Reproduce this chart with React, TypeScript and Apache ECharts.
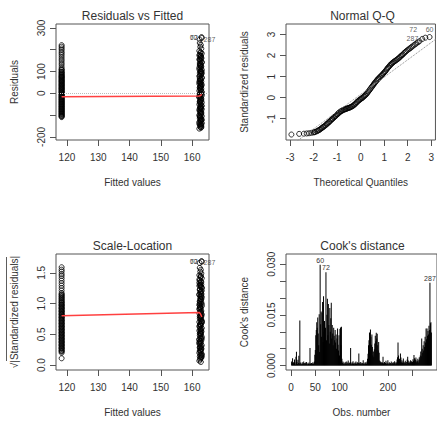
import React, { useEffect, useRef } from "react";
import * as echarts from "echarts";

// ---------- Residuals vs Fitted ----------
const fittedTicks = [120, 130, 140, 150, 160];
const residualTicks = [-200, -100, 0, 100, 200, 300];
const residualTickLabels = [-200, 0, 100, 300];

const leftGroupFitted = 118.3;
const leftResiduals = [
  221, 214, 206, 199, 190, 183, 175, 166, 157, 149, 139, 131, 121, 113, 106, 99, 93, 86, 80, 75,
  69, 63, 57, 52, 46, 40, 35, 29, 23, 18, 12, 6, 1, -5, -10, -16, -21, -27, -32, -38,
  -43, -49, -54, -60, -65, -71, -76, -82, -87, -93, -98, -104, -109,
  108, 97, 90, 83, 77, 72, 66, 60, 55, 49, 43, 38, 32, 26, 21, 15, 9, 4, -2, -7,
  -13, -18, -24, -29, -35, -40, -46, -51, -57, -62, -68, -73, -79, -84, -90, -95, -101, -106,
];

const rightFitted = [
  162.45, 162.8, 162.6, 162.95, 162.3, 162.7, 163.1, 162.45, 162.8, 162.6, 162.95, 162.3, 162.7, 163.1, 162.45, 162.8, 162.6, 162.95, 162.3, 162.7,
  163.1, 162.6, 162.8, 162.45, 162.95, 162.7, 162.3, 163.1, 162.6, 162.8, 162.45, 162.95, 162.7, 162.3, 163.1, 162.6, 162.8, 162.45, 162.95, 162.7,
  162.3, 162.95, 162.6, 162.8, 162.45, 163.1, 162.7, 162.3, 162.95, 162.6, 162.8, 162.45, 163.1, 162.7, 162.3, 162.95, 162.6, 162.8, 162.45, 163.1,
  162.7, 162.45, 162.95, 162.6, 162.8, 162.3, 163.1, 162.7, 162.45, 162.95, 162.6, 162.8, 162.3, 163.1, 162.7, 162.45, 162.95, 162.6, 162.8, 162.3,
  162.8, 162.6, 162.95, 162.45, 162.7, 163.1, 162.6, 162.8, 162.45, 162.95,
  162.7, 162.3, 162.95, 162.6, 163.1, 162.45, 162.8, 162.3, 162.7, 162.95, 162.45, 163.1, 162.6, 162.3, 162.8, 162.95, 162.45, 162.7, 163.1, 162.6,
  162.3, 162.8, 162.95, 162.45, 162.7, 163.1, 162.6, 162.3, 162.8, 162.95, 162.45, 162.7, 163.1, 162.6, 162.3, 162.8, 162.95, 162.45, 162.7, 163.1,
  162.6, 162.3, 162.8, 162.95,
];
const rightResiduals = [
  231, 222, 214, 205, 195, 189, 183, 177, 171, 166, 160, 155, 149, 144, 139, 133, 128, 123, 118, 113,
  108, 103, 98, 93, 88, 83, 78, 73, 68, 63, 58, 54, 49, 44, 40, 35, 30, 26, 21, 17,
  12, 8, 3, -1, -6, -10, -15, -19, -24, -28, -33, -37, -42, -46, -51, -55, -60, -64, -69, -73,
  -78, -82, -87, -91, -96, -100, -105, -109, -114, -118, -123, -127, -132, -136, -141, -145, -150, -154, -158, -162,
  172, 136, 101, 66, 31, -3, -38, -72, -107, -141,
  186, 174, 163, 152, 141, 130, 120, 110, 100, 90, 80, 70, 61, 52, 43, 34, 25, 15, 6, -4,
  -13, -22, -31, -40, -49, -58, -67, -76, -85, -94, -103, -112, -121, -130, -139, -148, -156, 157, 125, 95,
  46, -17, -66, -125,
];

const outlierIds = ["60", "72", "287"];
const outlierFitted = [163.0, 163.1, 162.4];
const outlierResiduals = [258, 254, 247];

const lowessFitted = [118.3, 162.3, 162.7, 163.1];
const lowessResiduals = [-16, -12, -10, -5];

// ---------- Normal Q-Q ----------
const qqTicksX = [-3, -2, -1, 0, 1, 2, 3];
const qqTicksY = [-1, 0, 1, 2, 3];
const qqTheoretical = [
  -2.95, -2.62, -2.42, -2.3, -2.2, -2.1, -2.02, -1.95, -1.88, -1.8, -1.72, -1.65, -1.58, -1.5, -1.43, -1.36, -1.29, -1.22, -1.15, -1.08,
  -1.01, -0.94, -0.87, -0.8, -0.73, -0.66, -0.59, -0.52, -0.45, -0.38, -0.31, -0.24, -0.17, -0.1, -0.03, 0.04, 0.11, 0.18, 0.25, 0.32,
  0.39, 0.46, 0.53, 0.6, 0.67, 0.74, 0.81, 0.88, 0.95, 1.02, 1.09, 1.16, 1.23, 1.3, 1.37, 1.44, 1.52, 1.6, 1.68, 1.76,
  1.85, 1.94, 2.04, 2.14, 2.25, 2.37, 2.5,
  -1.54, -1.4, -1.25, -1.12, -0.98, -0.84, -0.7, -0.56, -0.42, -0.28, -0.14, 0.0, 0.14, 0.28, 0.42, 0.56, 0.7, 0.84, 0.98, 1.12,
  1.26, 1.4, 1.56, 1.72, 1.9,
  -1.97, -1.84, -1.76, -1.68, -1.61, -1.46, -1.33, -1.19, -1.05, -0.91, -0.77, -0.63, -0.49, -0.35, -0.21, -0.07, 0.07, 0.21, 0.35, 0.49,
  0.63, 0.77, 0.91, 1.05, 1.19, 1.33, 1.48, 1.64, 1.8, 1.99, 2.09, 2.19, 2.31, 2.43,
];
const qqStandardized = [
  -1.75, -1.72, -1.71, -1.7, -1.69, -1.67, -1.65, -1.63, -1.6, -1.55, -1.5, -1.44, -1.38, -1.31, -1.24, -1.17, -1.1, -1.02, -0.95, -0.88,
  -0.8, -0.73, -0.67, -0.62, -0.58, -0.55, -0.52, -0.49, -0.46, -0.42, -0.37, -0.3, -0.22, -0.15, -0.09, -0.03, 0.03, 0.1, 0.18, 0.28,
  0.38, 0.49, 0.6, 0.7, 0.8, 0.89, 0.97, 1.05, 1.13, 1.22, 1.32, 1.42, 1.51, 1.6, 1.67, 1.73, 1.79, 1.86, 1.94, 2.02,
  2.12, 2.21, 2.3, 2.38, 2.48, 2.58, 2.68,
  -1.35, -1.21, -1.05, -0.92, -0.78, -0.64, -0.56, -0.5, -0.44, -0.34, -0.19, -0.06, 0.07, 0.23, 0.44, 0.65, 0.85, 1.01, 1.18, 1.37,
  1.56, 1.7, 1.83, 1.99, 2.17,
  -1.64, -1.58, -1.53, -1.46, -1.4, -1.27, -1.14, -0.99, -0.85, -0.7, -0.6, -0.54, -0.48, -0.4, -0.27, -0.12, -0.01, 0.13, 0.33, 0.54,
  0.75, 0.93, 1.08, 1.26, 1.46, 1.63, 1.76, 1.9, 2.06, 2.26, 2.34, 2.43, 2.53, 2.63,
];
const qqOutlierTheoretical = [2.93, 2.75, 2.62];
const qqOutlierStandardized = [2.88, 2.85, 2.79];
const qqLineIntercept = 0.16;
const qqLineSlope = 0.82;

// ---------- Scale-Location ----------
const sqrtTicks = [0, 0.5, 1, 1.5];
const leftSqrtStd = [
  1.59, 1.55, 1.52, 1.48, 1.45, 1.41, 1.37, 1.33, 1.29, 1.25, 1.21, 1.17, 1.14, 1.11, 1.08, 1.06, 1.03, 1.01, 0.98, 0.96,
  0.93, 0.91, 0.88, 0.86, 0.83, 0.81, 0.78, 0.76, 0.73, 0.71, 0.68, 0.66, 0.63, 0.61, 0.58, 0.56, 0.53, 0.51, 0.48, 0.46,
  0.43, 0.41, 0.38, 0.36, 0.33, 0.31, 0.28, 0.26, 0.23, 0.2, 0.11,
  1.15, 1.12, 1.09, 1.05, 1.02, 0.99, 0.97, 0.94, 0.92, 0.89, 0.87, 0.84, 0.82, 0.79, 0.77, 0.74, 0.72, 0.69, 0.67, 0.64,
  0.62, 0.59, 0.57, 0.54, 0.52, 0.49, 0.47, 0.44, 0.42, 0.39, 0.37, 0.34, 0.32, 0.29, 0.27, 0.24, 0.22,
];
const rightSqrtStd = [
  1.58, 1.55, 1.52, 1.49, 1.46, 1.43, 1.41, 1.38, 1.36, 1.33, 1.31, 1.29, 1.27, 1.25, 1.22, 1.2, 1.18, 1.16, 1.14, 1.12,
  1.1, 1.08, 1.06, 1.04, 1.02, 1.0, 0.98, 0.96, 0.94, 0.92, 0.9, 0.88, 0.86, 0.84, 0.82, 0.8, 0.78, 0.76, 0.74, 0.72,
  0.7, 0.68, 0.66, 0.64, 0.62, 0.6, 0.58, 0.56, 0.54, 0.52, 0.5, 0.48, 0.46, 0.44, 0.42, 0.4, 0.38, 0.36, 0.34, 0.32,
  0.3, 0.28, 0.26, 0.24, 0.22, 0.2, 0.18, 0.16, 0.14, 0.12, 0.09, 0.05, 1.34, 1.21, 1.07, 0.93, 0.79, 0.65, 0.51, 0.37,
  1.45, 1.3, 1.15, 1.0, 0.85, 0.71, 0.57, 0.43, 0.29, 0.17,
  1.44, 1.39, 1.35, 1.3, 1.26, 1.23, 1.19, 1.15, 1.11, 1.07, 1.03, 0.99, 0.95, 0.91, 0.87, 0.83, 0.79, 0.75, 0.71, 0.67,
  0.63, 0.59, 0.55, 0.51, 0.47, 0.43, 0.39, 0.35, 0.31, 0.27, 0.23, 0.19, 0.15, 0.11, 0.07, 1.28, 1.12, 0.97, 0.81, 0.69,
  0.53, 0.41, 0.25, 0.13,
];
const outlierSqrtStd = [1.69, 1.68, 1.66];
const lowessSqrtStd = [0.8, 0.855, 0.83, 0.78];

// ---------- Cook's distance ----------
const obsTicks = [0, 50, 100, 150, 200, 250];
const obsTickLabels = [0, 50, 100, 200];
const cooksTicks = [0, 0.005, 0.01, 0.015, 0.02, 0.025, 0.03];
const cooksTickLabels = [0, 0.015, 0.03];
const cooksLabelIds = [60, 72, 287];
const cooksDistance = [
  0.0012, 0.0008, 0.0022, 0.0006, 0.0010, 0.0004, 0.0018, 0.0009, 0.0003, 0.0026,
  0.0041, 0.0011, 0.0005, 0.0017, 0.0008, 0.0029, 0.0006, 0.0133, 0.0009, 0.0004,
  0.0006, 0.0003, 0.0010, 0.0005, 0.0007, 0.0012, 0.0004, 0.0008, 0.0005, 0.0009,
  0.0004, 0.0011, 0.0006, 0.0003, 0.0007, 0.0005, 0.0009, 0.0004, 0.0052, 0.0006,
  0.0005, 0.0008, 0.0004, 0.0006, 0.0010, 0.0005, 0.0007, 0.0012, 0.0032, 0.0046,
  0.0090, 0.0105, 0.0128, 0.0112, 0.0142, 0.0095, 0.0060, 0.0152, 0.0040, 0.0298,
  0.0122, 0.0160, 0.0085, 0.0156, 0.0188, 0.0070, 0.0205, 0.0100, 0.0132, 0.0080,
  0.0112, 0.0276, 0.0075, 0.0150, 0.0198, 0.0090, 0.0182, 0.0120, 0.0065, 0.0170,
  0.0100, 0.0140, 0.0186, 0.0080, 0.0120, 0.0095, 0.0060, 0.0112, 0.0088, 0.0075,
  0.0105, 0.0068, 0.0092, 0.0050, 0.0080, 0.0110, 0.0062, 0.0045, 0.0090, 0.0030,
  0.0108, 0.0113, 0.0060, 0.0115, 0.0020, 0.0008, 0.0012, 0.0005, 0.0009, 0.0004,
  0.0007, 0.0010, 0.0005, 0.0012, 0.0006, 0.0004, 0.0009, 0.0015, 0.0006, 0.0003,
  0.0008, 0.0011, 0.0052, 0.0007, 0.0004, 0.0010, 0.0006, 0.0013, 0.0005, 0.0008,
  0.0004, 0.0009, 0.0006, 0.0012, 0.0005, 0.0007, 0.0010, 0.0004, 0.0008, 0.0036,
  0.0006, 0.0009, 0.0005, 0.0011, 0.0007, 0.0004, 0.0008, 0.0006, 0.0016, 0.0005,
  0.0007, 0.0004, 0.0010, 0.0006, 0.0009, 0.0005, 0.0012, 0.0020, 0.0035, 0.0060,
  0.0075, 0.0098, 0.0070, 0.0107, 0.0085, 0.0062, 0.0092, 0.0055, 0.0030, 0.0042,
  0.0025, 0.0048, 0.0065, 0.0088, 0.0072, 0.0097, 0.0080, 0.0094, 0.0060, 0.0045,
  0.0070, 0.0038, 0.0015, 0.0008, 0.0012, 0.0006, 0.0010, 0.0005, 0.0009, 0.0026,
  0.0007, 0.0004, 0.0011, 0.0006, 0.0008, 0.0014, 0.0005, 0.0009, 0.0006, 0.0016,
  0.0004, 0.0007, 0.0010, 0.0005, 0.0008, 0.0006, 0.0012, 0.0004, 0.0009, 0.0007,
  0.0005, 0.0010, 0.0006, 0.0013, 0.0008, 0.0004, 0.0011, 0.0007, 0.0018, 0.0025,
  0.0068, 0.0030, 0.0015, 0.0020, 0.0012, 0.0036, 0.0024, 0.0010, 0.0016, 0.0008,
  0.0012, 0.0021, 0.0007, 0.0010, 0.0006, 0.0014, 0.0009, 0.0005, 0.0011, 0.0018,
  0.0026, 0.0015, 0.0008, 0.0012, 0.0007, 0.0010, 0.0016, 0.0009, 0.0013, 0.0008,
  0.0011, 0.0019, 0.0014, 0.0031, 0.0022, 0.0012, 0.0018, 0.0024, 0.0010, 0.0015,
  0.0013, 0.0020, 0.0009, 0.0016, 0.0025, 0.0018, 0.0030, 0.0042, 0.0028, 0.0080,
  0.0050, 0.0038, 0.0060, 0.0045, 0.0072, 0.0055, 0.0085, 0.0068, 0.0110, 0.0078,
  0.0110, 0.0088, 0.0102, 0.0092, 0.0118, 0.0105, 0.0245, 0.0125, 0.0128, 0.0098,
];

const FONT = '"Liberation Sans", Arial, Helvetica, sans-serif';
const TEXT = "#333";
const LINE = "#555";

function xAxisDef(gridIndex: number, min: number, max: number, ticks: number[], labels: number[], name: string) {
  return {
    type: "value", gridIndex, min, max,
    name, nameLocation: "middle", nameGap: 37,
    nameTextStyle: { fontSize: 10, color: TEXT, fontFamily: FONT },
    axisLine: { show: false, onZero: false },
    axisTick: { show: true, inside: false, length: 6, lineStyle: { color: LINE, width: 1 }, customValues: ticks },
    axisLabel: { show: true, customValues: labels, fontSize: 10, color: TEXT, fontFamily: FONT, margin: 12 },
    splitLine: { show: false },
  };
}

function yAxisDef(gridIndex: number, min: number, max: number, ticks: number[], labels: number[], name: string, fmt?: (v: number) => string) {
  return {
    type: "value", gridIndex, min, max,
    name, nameLocation: "middle", nameGap: 37, nameRotate: 90,
    nameTextStyle: { fontSize: 10, color: TEXT, fontFamily: FONT },
    axisLine: { show: false, onZero: false },
    axisTick: { show: true, inside: false, length: 6, lineStyle: { color: LINE, width: 1 }, customValues: ticks },
    axisLabel: {
      show: true, customValues: labels, fontSize: 10, color: TEXT, fontFamily: FONT, margin: 10, rotate: 90,
      formatter: fmt ? (v: number) => fmt(v) : undefined,
    },
    splitLine: { show: false },
  };
}

const circleStyle = { color: "transparent", borderColor: "#000", borderWidth: 1 };

// R-like placement: points right of the middle of the labelled points get their label on the left
function labeledPoints(xs: number[], ys: number[]) {
  const mid = (Math.min(...xs) + Math.max(...xs)) / 2;
  return xs.map((x, i) => ({
    name: outlierIds[i],
    value: [x, ys[i]],
    label: { position: x > mid ? "left" : "right" },
  }));
}

function outlierSeries(axisIndex: number, data: any[]) {
  return {
    type: "scatter", xAxisIndex: axisIndex, yAxisIndex: axisIndex, silent: true,
    symbol: "circle", symbolSize: 5, itemStyle: circleStyle,
    label: { show: true, formatter: "{b}", fontSize: 7, color: TEXT, fontFamily: FONT, distance: 1 },
    labelLayout: { hideOverlap: false },
    data,
  };
}

export default function App() {
  const ref = useRef<HTMLDivElement>(null);

  useEffect(() => {
    if (!ref.current) return;
    const chart = echarts.init(ref.current, undefined, { renderer: "svg" });

    const residualPoints = [
      ...leftResiduals.map((r) => [leftGroupFitted, r]),
      ...rightResiduals.map((r, i) => [rightFitted[i % rightFitted.length], r]),
    ];
    const sqrtPoints = [
      ...leftSqrtStd.map((r) => [leftGroupFitted, r]),
      ...rightSqrtStd.map((r, i) => [rightFitted[i % rightFitted.length], r]),
    ];
    const qqPoints = qqTheoretical.map((x, i) => [x, qqStandardized[i]]);
    const qqXMin = -3.2, qqXMax = 3.2;
    const qqLine = [qqXMin, qqXMax].map((x) => [x, qqLineIntercept + qqLineSlope * x]);

    // Q-Q labels: spread around the cluster so that they do not cover one another
    const qqLabelPos: any[] = ["top", [-13, -9], "left"];
    const qqLabelData = qqOutlierTheoretical.map((x, i) => ({
      name: outlierIds[i],
      value: [x, qqOutlierStandardized[i]],
      label: { position: qqLabelPos[i] },
    }));

    const cooksData = cooksDistance.map((v, i) => {
      const obs = i + 1;
      if (cooksLabelIds.includes(obs)) {
        return {
          value: [obs, v],
          label: { show: true, position: "top", distance: 1, formatter: String(obs), fontSize: 7, color: TEXT, fontFamily: FONT },
        };
      }
      return { value: [obs, v] };
    });

    const grids = [
      { left: 56, top: 24, width: 153, height: 116 },
      { left: 286, top: 24, width: 153, height: 116 },
      { left: 56, top: 254, width: 153, height: 116 },
      { left: 286, top: 254, width: 153, height: 116 },
    ].map((g) => ({ ...g, show: true, borderColor: LINE, borderWidth: 1, backgroundColor: "transparent", containLabel: false }));

    const titleText = (text: string, x: number, y: number) => ({
      type: "text", x, y, silent: true,
      style: { text, fontSize: 12, fontFamily: FONT, fill: TEXT, textAlign: "center", textVerticalAlign: "middle", align: "center", verticalAlign: "middle" },
    });

    const option: any = {
      animation: false,
      backgroundColor: "#fff",
      textStyle: { fontFamily: FONT },
      grid: grids,
      xAxis: [
        xAxisDef(0, 116.5, 165.4, fittedTicks, fittedTicks, "Fitted values"),
        xAxisDef(1, -3.18, 3.18, qqTicksX, qqTicksX, "Theoretical Quantiles"),
        xAxisDef(2, 116.5, 165.4, fittedTicks, fittedTicks, "Fitted values"),
        xAxisDef(3, -10.6, 301.6, obsTicks, obsTickLabels, "Obs. number"),
      ],
      yAxis: [
        yAxisDef(0, -214, 318, residualTicks, residualTickLabels, "Residuals"),
        yAxisDef(1, -2.01, 3.5, qqTicksY, qqTicksY, "Standardized residuals"),
        yAxisDef(2, -0.08, 1.805, sqrtTicks, sqrtTicks, "√|Standardized residuals|", (v) => v.toFixed(1)),
        yAxisDef(3, -0.0013, 0.033, cooksTicks, cooksTickLabels, "Cook's distance", (v) => v.toFixed(3)),
      ],
      graphic: [
        titleText("Residuals vs Fitted", 132.5, 15.5),
        titleText("Normal Q-Q", 362.5, 15.5),
        titleText("Scale-Location", 132.5, 245.5),
        titleText("Cook's distance", 362.5, 245.5),
        { type: "line", silent: true, shape: { x1: 6.5, y1: 257, x2: 6.5, y2: 361 }, style: { stroke: TEXT, lineWidth: 0.8 } },
      ],
      series: [
        {
          type: "scatter", xAxisIndex: 0, yAxisIndex: 0, silent: true,
          symbol: "circle", symbolSize: 5, itemStyle: circleStyle, data: residualPoints,
          markLine: {
            silent: true, symbol: ["none", "none"], label: { show: false },
            lineStyle: { type: "dotted", color: "#bbb", width: 1 }, data: [{ yAxis: 0 }],
          },
        },
        outlierSeries(0, labeledPoints(outlierFitted, outlierResiduals)),
        {
          type: "line", xAxisIndex: 0, yAxisIndex: 0, silent: true, showSymbol: false,
          lineStyle: { color: "#ff4040", width: 1.5 }, data: lowessFitted.map((x, i) => [x, lowessResiduals[i]]),
        },
        {
          type: "scatter", xAxisIndex: 1, yAxisIndex: 1, silent: true,
          symbol: "circle", symbolSize: 5, itemStyle: circleStyle, data: qqPoints,
        },
        outlierSeries(1, qqLabelData),
        {
          type: "line", xAxisIndex: 1, yAxisIndex: 1, silent: true, showSymbol: false, clip: true,
          lineStyle: { color: "#888", width: 1, type: "dotted" }, data: qqLine,
        },
        {
          type: "scatter", xAxisIndex: 2, yAxisIndex: 2, silent: true,
          symbol: "circle", symbolSize: 5, itemStyle: circleStyle, data: sqrtPoints,
        },
        outlierSeries(2, labeledPoints(outlierFitted, outlierSqrtStd)),
        {
          type: "line", xAxisIndex: 2, yAxisIndex: 2, silent: true, showSymbol: false,
          lineStyle: { color: "#ff4040", width: 1.5 }, data: lowessFitted.map((x, i) => [x, lowessSqrtStd[i]]),
        },
        {
          type: "bar", xAxisIndex: 3, yAxisIndex: 3, silent: true, barWidth: 1,
          itemStyle: { color: "#000" }, labelLayout: { hideOverlap: false }, data: cooksData,
        },
      ],
    };

    chart.setOption(option);
    return () => chart.dispose();
  }, []);

  return (
    <div
      ref={ref}
      style={{ position: "absolute", left: 0, top: 0, width: 437, height: 423, overflow: "hidden" }}
    />
  );
}
